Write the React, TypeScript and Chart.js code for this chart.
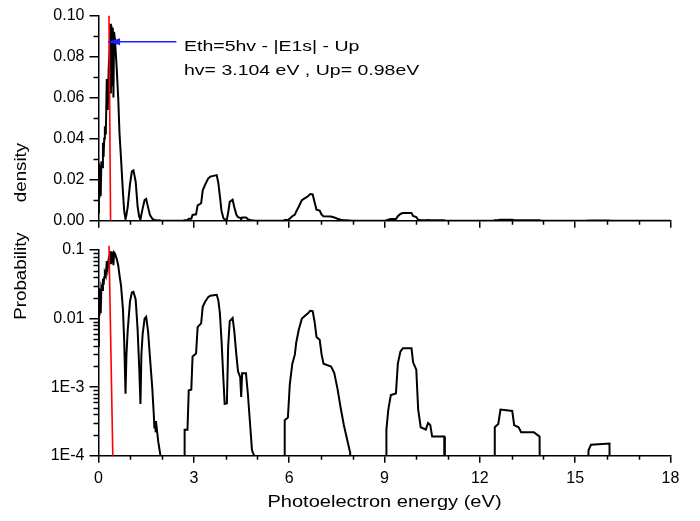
import React, { useEffect, useRef } from 'react';
import { Chart, registerables } from 'chart.js';

Chart.register(...registerables);

// Photoelectron energy (eV)
const ENERGY = [
  0.00, 0.01, 0.03, 0.05, 0.07, 0.09, 0.12, 0.14, 0.16, 0.18, 0.20, 0.23, 0.26, 0.29, 0.32, 0.35,
  0.37, 0.39, 0.41, 0.43, 0.45, 0.47, 0.49, 0.52, 0.57, 0.62, 0.66, 0.71, 0.77, 0.81, 0.85, 0.88,
  0.92, 0.99, 1.05, 1.10, 1.17, 1.23, 1.28, 1.32, 1.35, 1.39, 1.45, 1.50, 1.56, 1.62, 1.69, 1.74,
  1.76, 1.78, 1.80, 1.83, 1.88, 1.95, 1.97,
  2.70, 2.71, 2.80, 2.84, 2.92, 2.96, 3.07, 3.12, 3.23, 3.28, 3.36, 3.45, 3.52, 3.72, 3.77, 3.82,
  3.87, 3.93, 3.97, 4.04, 4.08, 4.13, 4.22, 4.27, 4.34, 4.39, 4.46, 4.49, 4.52, 4.64, 4.70, 4.77,
  4.83, 4.90, 4.92,
  5.85, 5.86, 5.96, 6.02, 6.10, 6.18, 6.22, 6.30, 6.40, 6.50, 6.60, 6.66, 6.74, 6.80, 6.86, 6.96,
  7.02, 7.08, 7.32, 7.42, 7.52, 7.62, 7.72, 7.84, 7.92, 7.95,
  9.05, 9.06, 9.12, 9.20, 9.36, 9.42, 9.50, 9.58, 9.85, 9.90, 10.00, 10.06, 10.14, 10.30, 10.37,
  10.44, 10.50, 10.88, 10.90,
  12.46, 12.47, 12.58, 12.65, 13.02, 13.08, 13.22, 13.30, 13.70, 13.88, 13.92,
  15.35, 15.42, 15.50, 16.08, 16.12, 18.00,
];

// Probability density
const DENSITY = [
  0.004, 0.028, 0.011, 0.027, 0.012, 0.029, 0.026, 0.038, 0.031, 0.040, 0.046, 0.042, 0.069, 0.054, 0.074, 0.083,
  0.096, 0.062, 0.095, 0.066, 0.094, 0.060, 0.092, 0.088, 0.075, 0.060, 0.043, 0.030, 0.0135, 0.0045, 0.0008, 0.0030,
  0.0068, 0.0177, 0.0240, 0.0245, 0.0190, 0.0070, 0.0020, 0.00057, 0.0030, 0.0060, 0.0100, 0.0106, 0.0065, 0.0027, 0.0010, 0.00040,
  0.00025, 0.00032, 0.00022, 0.00026, 0.00016, 0.00010, 0,
  0, 0.00024, 0.00024, 0.00090, 0.00092, 0.0028, 0.0031, 0.0075, 0.0085, 0.0148, 0.0177, 0.0205, 0.0215, 0.0222, 0.0185, 0.0120,
  0.0049, 0.0013, 0.00057, 0.00058, 0.0039, 0.0092, 0.0102, 0.0068, 0.0029, 0.0017, 0.0014, 0.00072, 0.0016, 0.0016, 0.00080, 0.00029,
  0.00012, 0.00010, 0,
  0, 0.00033, 0.00036, 0.0011, 0.0022, 0.0030, 0.0044, 0.0068, 0.0100, 0.0110, 0.0120, 0.0130, 0.0128, 0.0090, 0.0054, 0.0049,
  0.0030, 0.0022, 0.0020, 0.0016, 0.00095, 0.00050, 0.00028, 0.00016, 0.00011, 0,
  0, 0.00024, 0.00047, 0.00077, 0.00081, 0.0022, 0.0033, 0.0037, 0.0037, 0.0023, 0.0018, 0.00047, 0.00026, 0.00024, 0.00030,
  0.00028, 0.00019, 0.00019, 0,
  0, 0.00026, 0.00029, 0.00047, 0.00045, 0.00028, 0.00026, 0.00022, 0.00022, 0.00019, 0,
  0, 0.00012, 0.000145, 0.00015, 0, 0,
];

const X_TICKS = [0, 3, 6, 9, 12, 15, 18];
const X_TICK_LABELS = ['0', '3', '6', '9', '12', '15', '18'];
const X_MINOR = [1, 2, 4, 5, 7, 8, 10, 11, 13, 14, 16, 17];

const LIN_TICKS = [0, 0.02, 0.04, 0.06, 0.08, 0.1];
const LIN_TICK_LABELS = ['0.00', '0.02', '0.04', '0.06', '0.08', '0.10'];
const LIN_MINOR = [0.01, 0.03, 0.05, 0.07, 0.09];

const LOG_TICKS = [1e-4, 1e-3, 1e-2, 1e-1];
const LOG_TICK_LABELS = ['1E-4', '1E-3', '0.01', '0.1'];
const LOG_MINOR_MULT = [2, 3, 4, 5, 6, 7, 8, 9];

// Threshold (red) line and arrow annotation, in data units
const THRESH_TOP_X = [0.33, 0.38];
const THRESH_TOP_Y = [0.1, 0];
const THRESH_LOG_X = [0.33, 0.45];
const THRESH_LOG_Y = [0.115, 1e-4];
const ARROW_X = [2.45, 0.30];
const ARROW_Y = [0.0872, 0.0872];
const NOTE_LINES = ['Eth=5hv - |E1s| - Up', 'hv= 3.104 eV , Up= 0.98eV'];
const NOTE_X = 2.69;
const NOTE_Y = [0.0828, 0.0711];

const Y_TITLE_PARTS = ['Probability', 'density'];
const X_TITLE = 'Photoelectron energy (eV)';

const FONT_FAMILY = '"Liberation Sans", Arial, Helvetica, sans-serif';

function stretchText(
  ctx: CanvasRenderingContext2D,
  text: string,
  x: number,
  y: number,
  size: number,
  sx: number,
  align: CanvasTextAlign,
  rot = 0,
) {
  ctx.save();
  ctx.translate(x, y);
  if (rot) ctx.rotate(rot);
  ctx.scale(sx, 1);
  ctx.font = `${size}px ${FONT_FAMILY}`;
  ctx.fillStyle = '#000';
  ctx.textAlign = align;
  ctx.textBaseline = 'alphabetic';
  ctx.fillText(text, 0, 0);
  ctx.restore();
}

function minorTicks(chart: any, xMinor: number[], yMinor: number[]) {
  const ctx: CanvasRenderingContext2D = chart.ctx;
  const xs = chart.scales.x;
  const ys = chart.scales.y;
  const area = chart.chartArea;
  ctx.save();
  ctx.strokeStyle = '#000';
  ctx.lineWidth = 1.5;
  ctx.beginPath();
  xMinor.forEach((v) => {
    const px = Math.round(xs.getPixelForValue(v)) + 0.5;
    ctx.moveTo(px, area.bottom);
    ctx.lineTo(px, area.bottom + 4);
  });
  yMinor.forEach((v) => {
    const py = Math.round(ys.getPixelForValue(v)) + 0.5;
    ctx.moveTo(area.left - 5, py);
    ctx.lineTo(area.left, py);
  });
  ctx.stroke();
  ctx.restore();
}

const tickFont = { family: FONT_FAMILY, size: 16 };

function baseX(showLabels: boolean, height: number) {
  return {
    type: 'linear',
    min: 0,
    max: 18,
    position: 'bottom',
    afterBuildTicks: (s: any) => {
      s.ticks = X_TICKS.map((v) => ({ value: v }));
    },
    ticks: {
      display: showLabels,
      autoSkip: false,
      maxRotation: 0,
      padding: 6,
      color: '#000',
      font: tickFont,
      callback: (v: number) => X_TICK_LABELS[X_TICKS.indexOf(v)],
    },
    grid: {
      drawOnChartArea: false,
      drawTicks: true,
      tickLength: 7,
      color: '#000',
      lineWidth: 1.5,
    },
    border: { display: true, color: '#000', width: 1.5 },
    afterFit: (s: any) => {
      s.height = height;
    },
  };
}

export default function App() {
  const topRef = useRef<HTMLCanvasElement>(null);
  const botRef = useRef<HTMLCanvasElement>(null);

  useEffect(() => {
    const curveLin = ENERGY.map((x, i) => ({ x, y: DENSITY[i] }));
    const curveLog = ENERGY.map((x, i) => ({ x, y: DENSITY[i] > 0 ? DENSITY[i] : 1e-7 }));
    const logMinor: number[] = [];
    LOG_TICKS.slice(0, 3).forEach((d) => LOG_MINOR_MULT.forEach((m) => logMinor.push(d * m)));

    const common = {
      animation: false,
      responsive: false,
      devicePixelRatio: 1,
      events: [] as any[],
      elements: { point: { radius: 0 }, line: { tension: 0 } },
    };

    const topPlugin = {
      id: 'topExtras',
      afterDraw(chart: any) {
        const ctx: CanvasRenderingContext2D = chart.ctx;
        minorTicks(chart, X_MINOR, LIN_MINOR);
        const xs = chart.scales.x;
        const ys = chart.scales.y;
        const tx = xs.getPixelForValue(ARROW_X[1]);
        const ty = ys.getPixelForValue(ARROW_Y[1]);
        ctx.save();
        ctx.fillStyle = 'rgb(30,30,255)';
        ctx.beginPath();
        ctx.moveTo(tx, ty);
        ctx.lineTo(tx + 12, ty - 3.5);
        ctx.lineTo(tx + 12, ty + 3.5);
        ctx.closePath();
        ctx.fill();
        ctx.restore();
        NOTE_LINES.forEach((t, i) => {
          stretchText(ctx, t, xs.getPixelForValue(NOTE_X), ys.getPixelForValue(NOTE_Y[i]), 15, 1.3, 'left');
        });
        stretchText(ctx, Y_TITLE_PARTS[1], 26, 172.5, 16, 1.17, 'center', -Math.PI / 2);
        stretchText(ctx, Y_TITLE_PARTS[0], 26, 276, 16, 1.17, 'center', -Math.PI / 2);
      },
    };

    const botPlugin = {
      id: 'botExtras',
      afterDraw(chart: any) {
        const ctx: CanvasRenderingContext2D = chart.ctx;
        minorTicks(chart, X_MINOR, logMinor);
        const xs = chart.scales.x;
        stretchText(ctx, X_TITLE, xs.getPixelForValue(9), 506.5, 17, 1.18, 'center');
      },
    };

    const top = new Chart(topRef.current as HTMLCanvasElement, {
      type: 'line',
      data: {
        datasets: [
          {
            data: ARROW_X.map((x, i) => ({ x, y: ARROW_Y[i] })),
            borderColor: 'rgb(30,30,255)',
            borderWidth: 1.3,
            pointRadius: 0,
            fill: false,
          },
          {
            data: THRESH_TOP_X.map((x, i) => ({ x, y: THRESH_TOP_Y[i] })),
            borderColor: '#ff0000',
            borderWidth: 1.6,
            pointRadius: 0,
            fill: false,
          },
          {
            data: curveLin,
            borderColor: '#000',
            borderWidth: 2,
            pointRadius: 0,
            fill: false,
          },
        ],
      },
      options: {
        ...common,
        layout: { padding: { left: 0, top: 15.5, right: 29.5, bottom: 290.3 } },
        plugins: { legend: { display: false }, tooltip: { enabled: false } },
        scales: {
          x: baseX(false, 10),
          y: {
            type: 'linear',
            min: 0,
            max: 0.1,
            afterBuildTicks: (s: any) => {
              s.ticks = LIN_TICKS.map((v) => ({ value: v }));
            },
            ticks: {
              autoSkip: false,
              padding: 5,
              color: '#000',
              font: tickFont,
              callback: (v: number) => LIN_TICK_LABELS[LIN_TICKS.indexOf(v)],
            },
            grid: {
              drawOnChartArea: false,
              drawTicks: true,
              tickLength: 9,
              color: '#000',
              lineWidth: 1.5,
            },
            border: { display: true, color: '#000', width: 1.5 },
            afterFit: (s: any) => {
              s.width = 98.5;
            },
          },
        } as any,
      } as any,
      plugins: [topPlugin],
    } as any);

    const bot = new Chart(botRef.current as HTMLCanvasElement, {
      type: 'line',
      data: {
        datasets: [
          {
            data: THRESH_LOG_X.map((x, i) => ({ x, y: THRESH_LOG_Y[i] })),
            borderColor: '#ff0000',
            borderWidth: 1.6,
            pointRadius: 0,
            fill: false,
            clip: false,
          },
          {
            data: curveLog,
            borderColor: '#000',
            borderWidth: 2,
            pointRadius: 0,
            fill: false,
          },
        ],
      },
      options: {
        ...common,
        layout: { padding: { left: 0, top: 250, right: 29.5, bottom: 0 } },
        plugins: { legend: { display: false }, tooltip: { enabled: false } },
        scales: {
          x: baseX(true, 65.3),
          y: {
            type: 'logarithmic',
            min: 1e-4,
            max: 0.1,
            afterBuildTicks: (s: any) => {
              s.ticks = LOG_TICKS.map((v) => ({ value: v }));
            },
            ticks: {
              autoSkip: false,
              padding: 5,
              color: '#000',
              font: tickFont,
              callback: (v: number) => LOG_TICK_LABELS[LOG_TICKS.indexOf(v)],
            },
            grid: {
              drawOnChartArea: false,
              drawTicks: true,
              tickLength: 9,
              color: '#000',
              lineWidth: 1.5,
            },
            border: { display: true, color: '#000', width: 1.5 },
            afterFit: (s: any) => {
              s.width = 98.5;
            },
          },
        } as any,
      } as any,
      plugins: [botPlugin],
    } as any);

    return () => {
      top.destroy();
      bot.destroy();
    };
  }, []);

  return (
    <div style={{ position: 'absolute', left: 0, top: 0, width: 700, height: 521, background: '#fff' }}>
      <canvas ref={topRef} width={700} height={521} style={{ position: 'absolute', left: 0, top: 0 }} />
      <canvas ref={botRef} width={700} height={521} style={{ position: 'absolute', left: 0, top: 0 }} />
    </div>
  );
}
